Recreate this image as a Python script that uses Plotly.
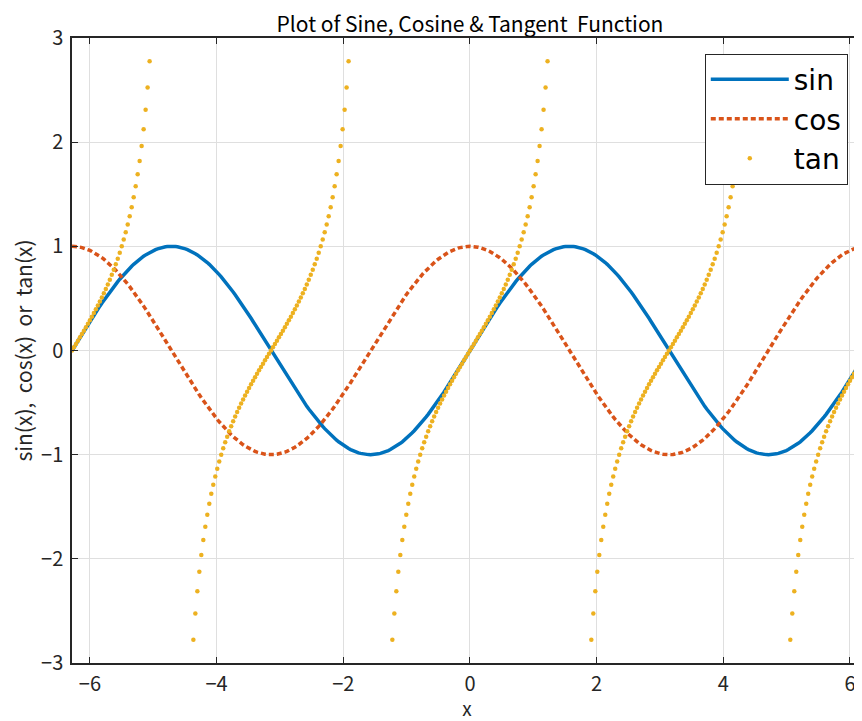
import numpy as np
import plotly.graph_objects as go

# ---- data ----
x_start = -2 * np.pi
x_stop = 2 * np.pi
n_points = 401  # step of pi/100, as read from the tan dot spacing
x_values = np.linspace(x_start, x_stop, n_points)
sin_values = np.sin(x_values)
cos_values = np.cos(x_values)
tan_values = np.tan(x_values)

series_names = ["sin", "cos", "tan"]
x_ticks = [-6, -4, -2, 0, 2, 4, 6]
y_ticks = [-3, -2, -1, 0, 1, 2, 3]

title_text = "Plot of Sine, Cosine & Tangent  Function"
x_label = "x"
y_label = "sin(x),  cos(x)  or  tan(x)"

FONT = "Noto Sans CJK JP, Noto Sans, sans-serif"
LEGEND_FONT = "DejaVu Sans, Noto Sans, sans-serif"
AX = "#262626"

# the page body has an 8px margin, so the figure is sized to end at the window edge
FIG_W, FIG_H = 854, 713

fig = go.Figure()
fig.add_trace(go.Scatter(x=x_values, y=sin_values, mode="lines", name=series_names[0],
                         line=dict(color="#0072BD", width=3.5)))
fig.add_trace(go.Scatter(x=x_values, y=cos_values, mode="lines", name=series_names[1],
                         line=dict(color="#D95319", width=3.5, dash="5px,3px")))
fig.add_trace(go.Scatter(x=x_values, y=tan_values, mode="markers", name=series_names[2],
                         marker=dict(color="#EDB120", size=4.5)))

fig.update_layout(
    width=FIG_W, height=FIG_H,
    margin=dict(l=64, r=0, t=30, b=58, autoexpand=False),
    paper_bgcolor="white", plot_bgcolor="white",
    font=dict(family=FONT, size=20, color=AX),
    title=dict(text=title_text, x=462 / FIG_W, xref="container", xanchor="center",
               y=1 - 17 / FIG_H, yref="container", yanchor="middle",
               font=dict(family=FONT, size=21, color="black")),
    legend=dict(x=0.982, xanchor="right", y=0.975, yanchor="top",
                bgcolor="white", bordercolor=AX, borderwidth=1,
                font=dict(family=LEGEND_FONT, size=28, color="black"),
                itemwidth=78, tracegroupgap=0),
    showlegend=True,
)
fig.update_xaxes(
    range=[x_start, 6.19], tickvals=x_ticks, ticks="inside", ticklen=6, tickcolor=AX,
    showline=True, linecolor=AX, linewidth=1.5, mirror="ticks", automargin=False,
    showgrid=True, gridcolor="#DFDFDF", gridwidth=1, zeroline=False,
    tickfont=dict(family=FONT, size=20, color=AX), ticklabelstandoff=2,
    title=dict(text=x_label, standoff=5, font=dict(family=FONT, size=19, color=AX)),
)
fig.update_yaxes(
    range=[-3, 3], tickvals=y_ticks, ticks="inside", ticklen=6, tickcolor=AX,
    showline=True, linecolor=AX, linewidth=1.5, mirror=False, automargin=False,
    showgrid=True, gridcolor="#DFDFDF", gridwidth=1, zeroline=False,
    tickfont=dict(family=FONT, size=20, color=AX), ticklabelstandoff=3,
    title=dict(text=y_label, standoff=3, font=dict(family=FONT, size=21, color=AX)),
)

fig.write_html("out.html")
